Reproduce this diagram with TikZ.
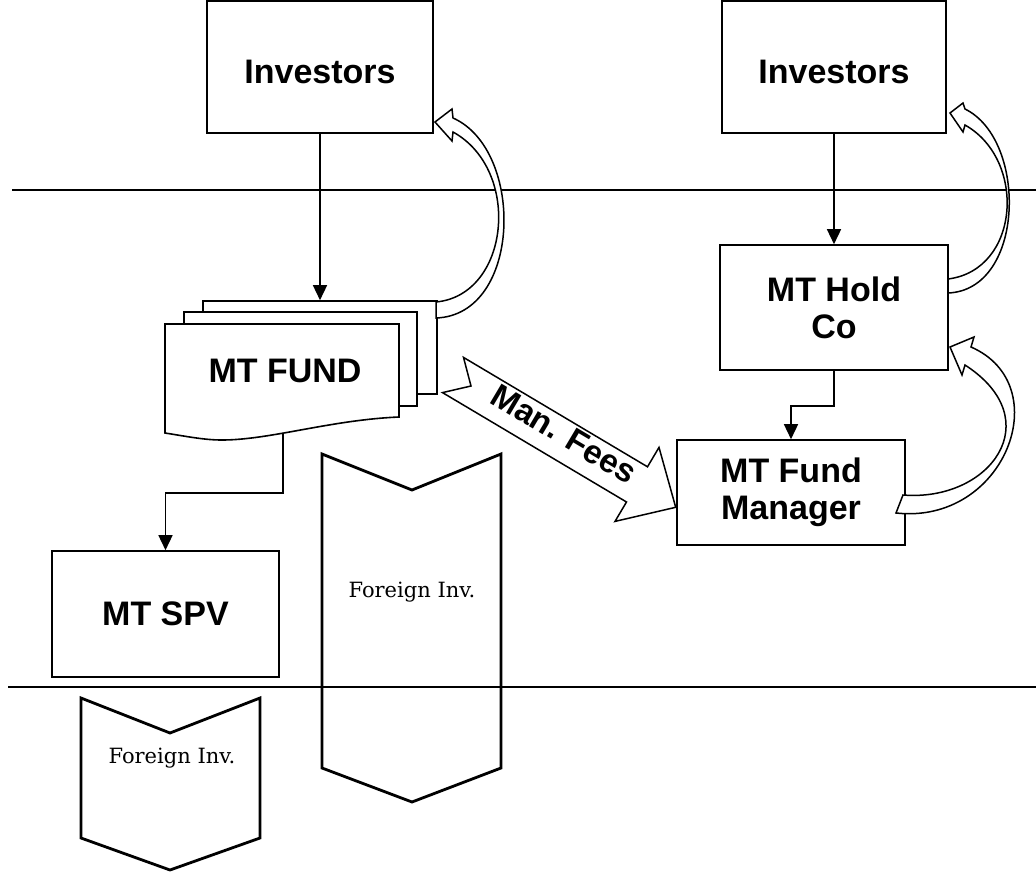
\documentclass[tikz,border=0pt]{standalone}
\usepackage{fontspec}
\setmainfont{Liberation Sans}
\newfontfamily\invfont{DejaVu Serif}
\usetikzlibrary{arrows.meta}
\begin{document}
\begin{tikzpicture}[x=1pt,y=-1pt,
  box/.style={draw, line width=1.6pt, fill=white, inner sep=0pt,
    font=\fontsize{34}{37}\selectfont\bfseries, align=center},
  layer/.style={draw, line width=1.6pt, fill=white, inner sep=0pt},
  conn/.style={line width=1.5pt, -{Triangle[length=15pt,width=14pt]}},
  divider/.style={line width=1.8pt},
  blockarrow/.style={draw, line width=1.5pt, fill=white, line join=miter},
  chevron/.style={draw, line width=2.8pt, line join=miter},
  invlabel/.style={font=\invfont\fontsize{21}{24}\selectfont, anchor=base},
]
\useasboundingbox (0,0) rectangle (1036,872);

% level dividers
\draw[divider] (12,190) -- (1036,190);
\draw[divider] (8,687) -- (1036,687);

% investors
\node[box, minimum width=226pt, minimum height=132pt, text height=34pt, text depth=0pt]
  (inv1) at (320,67) {Investors};
\node[box, minimum width=224pt, minimum height=132pt, text height=34pt, text depth=0pt]
  (inv2) at (834,67) {Investors};

% fund stack: two back sheets and a document-shaped front sheet
\node[layer, minimum width=234pt, minimum height=93pt] (fundback) at (320,347.5) {};
\node[layer, minimum width=233pt, minimum height=94pt] (fundmid) at (300.5,359) {};
\draw[layer] (165,324) -- (399,324) -- (399,417)
  .. controls (330,420) and (270,440) .. (222,440)
  .. controls (205,440) and (190,437) .. (165,433) -- cycle;
\node[font=\fontsize{34}{37}\selectfont\bfseries, anchor=base] (fund) at (285,382) {MT FUND};
\coordinate (fundbot) at (283,433);

% holding company, manager, SPV
\node[box, minimum width=228pt, minimum height=125pt] (holdco) at (834,307.5) {MT Hold\\Co};
\node[box, minimum width=228pt, minimum height=105pt] (fm) at (791,492.5) {MT Fund\\Manager};
\node[box, minimum width=227pt, minimum height=126pt] (spv) at (165.5,614) {MT SPV};

% foreign investment chevrons
\draw[chevron] (322,454) -- (412,490) -- (501,454) -- (501,768) -- (412,802) -- (322,768) -- cycle;
\node[invlabel] (fi1) at (412,597) {Foreign Inv.};
\draw[chevron] (81,698) -- (170,733) -- (260,698) -- (260,838) -- (170,870) -- (81,838) -- cycle;
\node[invlabel] (fi2) at (172,763) {Foreign Inv.};

% flows
\draw[conn] (inv1) -- (fundback);
\draw[conn] (inv2) -- (holdco);
\draw[conn] (holdco.south) -- ++(0,35) -| (fm.north);
\draw[conn] (fundbot) -- ++(0,60) -| (spv.north);

% returns to investors (curved block arrows)
\draw[blockarrow] (436,302) .. controls (510,295) and (522,170) .. (453,132)
  -- (452,141) -- (435,122) -- (452,109) -- (453,118)
  .. controls (525,150) and (522,315) .. (436,318) -- cycle;
\draw[blockarrow] (948,279) .. controls (1020,270) and (1027,160) .. (965,125)
  -- (963,132) -- (950,113) -- (963,103) -- (965,109)
  .. controls (1028,140) and (1025,290) .. (948,293) -- cycle;
\draw[blockarrow] (896,513) .. controls (1005,525) and (1058,385) .. (971,347)
  -- (974,337) -- (950,347) -- (962,375) -- (965,365)
  .. controls (1050,420) and (990,502) .. (903,495) -- cycle;

% management fees
\draw[blockarrow] (463.5,357.4) -- (647.5,466.8) -- (659,447.4) -- (675.7,507.3)
  -- (615,521.4) -- (626.5,502) -- (442.5,392.6) -- (471,386) -- cycle;
\node[font=\fontsize{33}{36}\selectfont\bfseries, rotate=-30.7] (fees) at (564,434) {Man. Fees};
\end{tikzpicture}
\end{document}
